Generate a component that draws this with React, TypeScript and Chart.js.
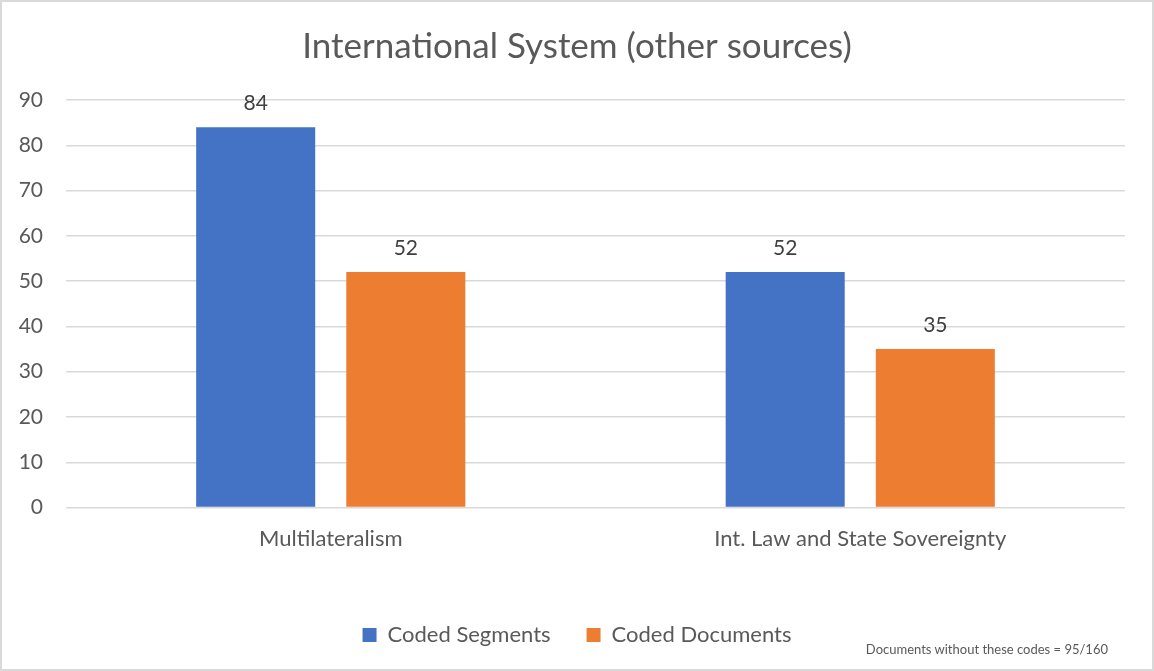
import React, { useEffect, useRef } from "react";
import { Chart, registerables } from "chart.js";

Chart.register(...registerables);

const categories = ["Multilateralism", "Int. Law and State Sovereignty"];
const codedSegments = [84, 52];
const codedDocuments = [52, 35];
const seriesNames = ["Coded Segments", "Coded Documents"];
const titleText = "International System (other sources)";
const footnoteText = "Documents without these codes = 95/160";

const FONT = "Lato, 'Open Sans', sans-serif";

const dataLabelPlugin = {
  id: "dataLabels",
  afterDatasetsDraw(chart: any) {
    const ctx = chart.ctx;
    ctx.save();
    ctx.font = `21px ${FONT}`;
    ctx.fillStyle = "#404040";
    ctx.textAlign = "center";
    ctx.textBaseline = "alphabetic";
    chart.data.datasets.forEach((ds: any, i: number) => {
      const meta = chart.getDatasetMeta(i);
      meta.data.forEach((el: any, j: number) => {
        ctx.fillText(String(ds.data[j]), el.x, el.y - 17);
      });
    });
    ctx.restore();
  },
};

export default function App() {
  const canvasRef = useRef<HTMLCanvasElement>(null);

  useEffect(() => {
    document.body.style.margin = "0";
    const chart = new Chart(canvasRef.current!, {
      type: "bar",
      data: {
        labels: categories,
        datasets: [
          {
            label: seriesNames[0],
            data: codedSegments,
            backgroundColor: "#4472C4",
            categoryPercentage: 0.567,
            barPercentage: 0.793,
          },
          {
            label: seriesNames[1],
            data: codedDocuments,
            backgroundColor: "#ED7D31",
            categoryPercentage: 0.567,
            barPercentage: 0.793,
          },
        ],
      },
      options: {
        animation: false,
        responsive: false,
        maintainAspectRatio: false,
        layout: { padding: { left: 17, right: 17, top: 10, bottom: 13 } },
        plugins: {
          title: {
            display: true,
            text: titleText,
            color: "#595959",
            font: { family: FONT, size: 35, weight: "normal" },
            padding: { top: 14, bottom: 32 },
          },
          legend: {
            position: "bottom",
            labels: {
              color: "#595959",
              font: { family: FONT, size: 22 },
              boxWidth: 14,
              boxHeight: 14,
              padding: 36,
            },
          },
          tooltip: { enabled: false },
        },
        scales: {
          x: {
            grid: { display: false },
            border: { display: false },
            ticks: {
              color: "#595959",
              font: { family: FONT, size: 22 },
              padding: 10,
            },
            afterFit(scale: any) {
              scale.height += 26;
            },
          },
          y: {
            min: 0,
            max: 90,
            grid: { color: "#D9D9D9", lineWidth: 1.5, drawTicks: false },
            border: { display: false },
            ticks: {
              stepSize: 10,
              color: "#595959",
              font: { family: FONT, size: 21 },
              padding: 23,
            },
            afterFit(scale: any) {
              scale.width = 47;
            },
          },
          yRight: {
            position: "right",
            display: true,
            min: 0,
            max: 90,
            grid: { display: false, drawTicks: false },
            border: { display: false },
            ticks: { display: false },
            afterFit(scale: any) {
              scale.width = 10;
            },
          },
        },
      },
      plugins: [dataLabelPlugin],
    });
    return () => chart.destroy();
  }, []);

  return (
    <div
      style={{
        position: "relative",
        width: 1154,
        height: 671,
        boxSizing: "border-box",
        border: "2px solid #D9D9D9",
        background: "#fff",
      }}
    >
      <canvas
        ref={canvasRef}
        width={1150}
        height={667}
        style={{ display: "block", width: 1150, height: 667 }}
      />
      <div
        style={{
          position: "absolute",
          right: 44,
          top: 639,
          fontFamily: FONT,
          fontSize: 13,
          color: "#595959",
          whiteSpace: "nowrap",
        }}
      >
        {footnoteText}
      </div>
    </div>
  );
}
